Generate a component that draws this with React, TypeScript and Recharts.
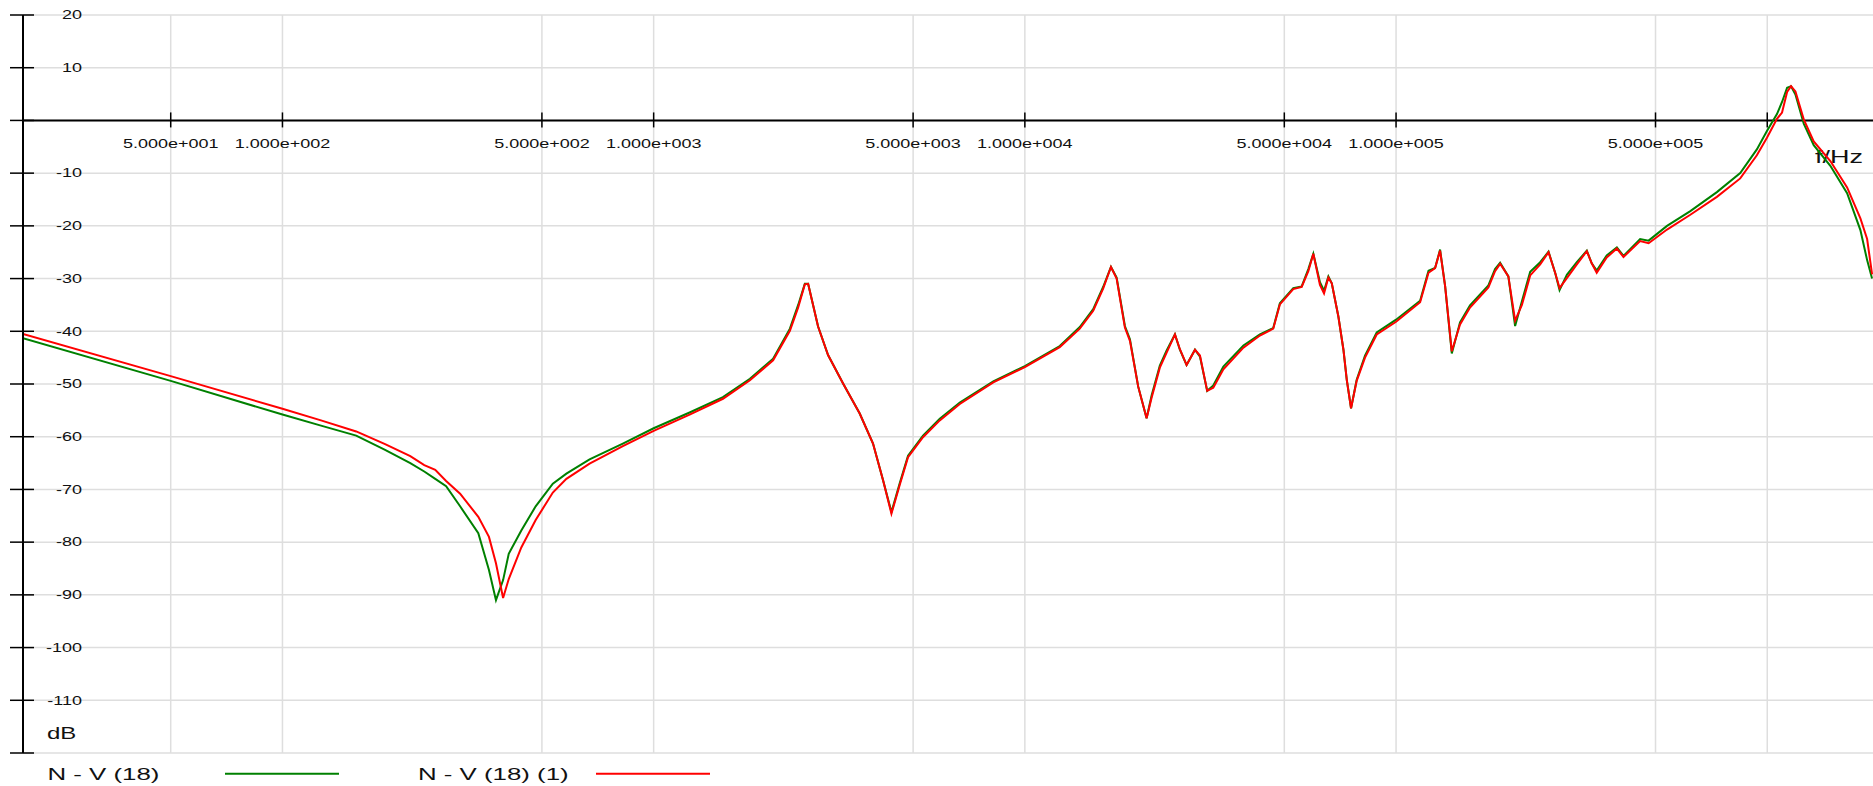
import React from 'react';
import {
  LineChart,
  Line,
  XAxis,
  YAxis,
  CartesianGrid,
  ReferenceLine,
  ReferenceDot,
  Legend,
} from 'recharts';

const FONT = '"Liberation Sans", Arial, Helvetica, sans-serif';
// the exported plot stretches all of its text horizontally
const SX = 1.5;

// frequency points (Hz)
const freqHz = [
  20, 50, 100, 127, 158, 189, 221, 241, 258, 276, 301, 337, 360, 376, 393, 407,
  440, 481, 535, 582, 672, 826, 1000, 1250, 1537, 1817, 2098, 2328, 2451, 2554,
  2607, 2773, 2950, 3238, 3590, 3899, 4148, 4371, 4607, 4845, 5316, 5899, 6680,
  8222, 10000, 12417, 14060, 15280, 16250, 17060, 17670, 18600, 19190, 20200,
  21280, 21950, 23100, 24080, 25370, 26160, 27270, 28730, 29630, 30990, 32180,
  34260, 38800, 42980, 46680, 48640, 52850, 55690, 58030, 59860, 62370, 63970,
  65720, 67120, 69920, 72150, 73660, 75640, 78330, 82480, 88690, 100000, 116100,
  122300, 127400, 131400, 135600, 141300, 148700, 158200, 177300, 184800,
  190700, 200700, 209300, 218300, 229800, 244500, 257500, 268500, 275700,
  288500, 306900, 326500, 336600, 347200, 369400, 393400, 409900, 454500,
  479000, 537000, 620500, 731600, 845600, 937500, 998000, 1062000, 1096000,
  1131000, 1159000, 1191000, 1254000, 1334000, 1479000, 1641000, 1782000,
  1858000, 1916000,
];

// N - V (18), dB
const nv18 = [
  -41.3, -49.4, -55.8, -57.9, -59.8, -62.5, -65.0, -66.6, -68.0, -69.4, -73.2,
  -78.3, -85.3, -91.0, -87.2, -82.2, -77.8, -73.2, -68.9, -67.0, -64.3, -61.3,
  -58.4, -55.4, -52.5, -49.0, -45.2, -39.5, -35.0, -31.0, -31.0, -39.1, -44.5,
  -49.9, -55.6, -61.3, -68.2, -74.3, -68.7, -63.6, -59.8, -56.6, -53.5, -49.5,
  -46.6, -42.8, -39.2, -35.8, -31.6, -27.8, -29.8, -39.0, -41.5, -50.5, -56.5,
  -52.2, -46.5, -43.7, -40.6, -43.5, -46.4, -43.5, -44.8, -51.3, -50.3, -46.7,
  -42.7, -40.6, -39.4, -34.7, -31.8, -31.5, -28.2, -25.3, -30.7, -32.3, -29.6,
  -30.9, -37.2, -43.5, -49.2, -54.6, -49.2, -44.6, -40.2, -37.8, -34.2, -28.5,
  -28.0, -24.5, -31.5, -44.2, -38.3, -35.1, -31.3, -28.2, -27.0, -29.6, -39.0,
  -34.3, -28.7, -26.9, -24.9, -29.0, -32.2, -29.3, -26.9, -24.7, -27.1, -28.5,
  -25.6, -24.1, -25.7, -22.5, -22.8, -20.0, -17.2, -13.6, -10.0, -5.5, -2.0,
  1.2, 3.5, 6.2, 6.5, 4.9, -0.6, -4.7, -8.6, -13.8, -20.8, -26.5, -30.0,
];

// N - V (18) (1), dB
const nv18b = [
  -40.5, -48.5, -54.7, -56.9, -59.0, -61.4, -63.7, -65.4, -66.3, -68.4, -70.8,
  -75.2, -79.0, -84.0, -90.6, -87.0, -81.0, -75.8, -70.6, -68.0, -65.1, -61.8,
  -58.9, -55.8, -52.8, -49.3, -45.5, -39.9, -35.5, -31.1, -31.0, -39.1, -44.5,
  -49.9, -55.6, -61.3, -68.2, -74.6, -69.0, -63.9, -60.1, -56.9, -53.8, -49.7,
  -46.8, -43.0, -39.5, -36.1, -31.9, -27.8, -30.0, -39.3, -41.8, -50.5, -56.5,
  -52.6, -46.9, -44.1, -40.6, -43.4, -46.4, -43.5, -44.6, -51.3, -50.7, -47.2,
  -43.1, -40.8, -39.5, -34.9, -32.0, -31.6, -28.6, -25.3, -31.2, -32.8, -29.8,
  -30.9, -37.2, -43.5, -49.2, -54.6, -49.4, -45.0, -40.6, -38.2, -34.5, -28.9,
  -28.0, -24.7, -31.5, -43.8, -38.7, -35.5, -31.7, -28.6, -27.2, -29.6, -38.0,
  -35.0, -29.4, -27.3, -25.0, -29.0, -31.8, -29.9, -27.3, -24.8, -27.1, -28.9,
  -26.0, -24.3, -25.9, -22.9, -23.3, -20.7, -17.9, -14.5, -11.0, -6.6, -3.3,
  0.3, 1.5, 5.4, 6.5, 5.5, 0.2, -4.0, -7.7, -12.7, -18.6, -22.5, -29.2,
];

const dbTicks = [20, 10, 0, -10, -20, -30, -40, -50, -60, -70, -80, -90, -100, -110, -120];
const freqTicks = [50, 100, 500, 1000, 5000, 10000, 50000, 100000, 500000, 1000000];
const freqTickLabels = [
  '5.000e+001', '1.000e+002', '5.000e+002', '1.000e+003', '5.000e+003',
  '1.000e+004', '5.000e+004', '1.000e+005', '5.000e+005', '',
];

const data = freqHz.map((f, i) => ({ f, a: nv18[i], b: nv18b[i] }));

const YTick = ({ x, y, payload }: any) => {
  const v = payload.value;
  const showText = v !== 0 && v !== -120;
  return (
    <g>
      <line x1={x - 13} x2={x + 11} y1={y} y2={y} stroke="#000" strokeWidth={1.5} />
      {showText && (
        <text
          transform={`translate(${x + 59},${y + 4.3}) scale(${SX},1)`}
          textAnchor="end"
          fontFamily={FONT}
          fontSize={12}
          fill="#111"
        >
          {v}
        </text>
      )}
    </g>
  );
};

// tick mark crossing the 0 dB line, with its label underneath
const freqTickShape = (label: string) => ({ cx, cy }: any) => (
  <g>
    <line x1={cx} x2={cx} y1={cy - 8} y2={cy + 7} stroke="#000" strokeWidth={1.5} />
    {label && (
      <text
        transform={`translate(${cx},${cy + 28}) scale(${SX},1)`}
        textAnchor="middle"
        fontFamily={FONT}
        fontSize={12}
        fill="#111"
      >
        {label}
      </text>
    )}
  </g>
);

const FreqName = ({ viewBox }: any) => (
  <text
    transform={`translate(${viewBox.x + viewBox.width - 16},${viewBox.y + 43}) scale(${SX},1)`}
    textAnchor="end"
    fontFamily={FONT}
    fontSize={18}
    fill="#111"
  >
    f/Hz
  </text>
);

const DbName = ({ viewBox }: any) => (
  <text
    transform={`translate(${viewBox.x + viewBox.width + 24},${viewBox.y + viewBox.height - 14}) scale(${SX},1)`}
    textAnchor="start"
    fontFamily={FONT}
    fontSize={16}
    fill="#111"
  >
    dB
  </text>
);

const legendPos = [
  { text: 47.5, x1: 225, x2: 339 },
  { text: 418, x1: 596, x2: 710 },
];

const LegendRow = ({ payload }: any) => (
  <svg width={800} height={30}>
    {(payload || []).map((entry: any, i: number) => (
      <g key={entry.value}>
        <text
          transform={`translate(${legendPos[i].text},24) scale(1.52,1)`}
          fontFamily={FONT}
          fontSize={17}
          fill="#111"
        >
          {entry.value}
        </text>
        <line
          x1={legendPos[i].x1}
          x2={legendPos[i].x2}
          y1={17.7}
          y2={17.7}
          stroke={entry.color}
          strokeWidth={2}
        />
      </g>
    ))}
  </svg>
);

export default function App() {
  return (
    <div
      style={{
        position: 'absolute',
        left: 0,
        top: 0,
        width: 1873,
        height: 786,
        overflow: 'hidden',
        background: '#fff',
      }}
    >
      <LineChart
        width={1879}
        height={786}
        data={data}
        margin={{ top: 15, right: 0, bottom: 33, left: 0 }}
      >
        <CartesianGrid stroke="#dedede" strokeWidth={1.5} />
        <XAxis
          dataKey="f"
          type="number"
          scale="log"
          domain={[20, 2000000]}
          ticks={freqTicks}
          allowDataOverflow
          hide
        />
        <YAxis
          type="number"
          domain={[-120, 20]}
          ticks={dbTicks}
          interval={0}
          width={23}
          axisLine={{ stroke: '#000', strokeWidth: 2 }}
          tickLine={false}
          tickSize={0}
          tickMargin={0}
          tick={<YTick />}
          label={<DbName />}
        />
        <ReferenceLine y={0} stroke="#000" strokeWidth={2} label={<FreqName />} />
        {freqTicks.map((f, i) => (
          <ReferenceDot key={f} x={f} y={0} r={0} shape={freqTickShape(freqTickLabels[i])} />
        ))}
        <Legend
          layout="horizontal"
          align="center"
          verticalAlign="middle"
          wrapperStyle={{ left: 0, top: 756, width: 800, height: 30 }}
          content={<LegendRow />}
        />
        <Line
          type="linear"
          dataKey="a"
          name="N - V (18)"
          stroke="#008000"
          strokeWidth={2}
          dot={false}
          activeDot={false}
          isAnimationActive={false}
        />
        <Line
          type="linear"
          dataKey="b"
          name="N - V (18) (1)"
          stroke="#ff0000"
          strokeWidth={2}
          dot={false}
          activeDot={false}
          isAnimationActive={false}
        />
      </LineChart>
    </div>
  );
}
